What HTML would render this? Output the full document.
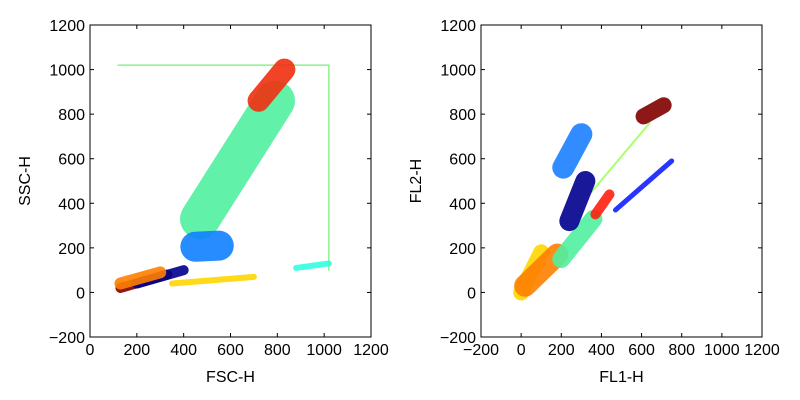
<!DOCTYPE html>
<html><head><meta charset="utf-8">
<style>
body{margin:0;background:#fff;}
svg{display:block;font-family:"Liberation Sans","DejaVu Sans",sans-serif;}
</style></head>
<body>
<svg id="chart" width="800" height="400" viewBox="0 0 800 400">
<rect width="800" height="400" fill="#fff"/>
</svg>
<script>
// Cluster data: start x, start y, end x, end y (data units), thickness px, color
const leftStartX = [120, 1020, 130, 200, 130, 350, 880, 470, 720, 450];
const leftStartY = [1020, 100, 20, 40, 40, 40, 110, 330, 860, 205];
const leftEndX   = [1020, 1020, 330, 400, 300, 700, 1020, 790, 830, 550];
const leftEndY   = [1020, 1020, 80, 100, 90, 70, 130, 860, 1000, 210];
const leftWidth  = [1.5, 1.5, 10, 10, 12, 6, 6, 40, 22, 30];
const leftColor  = ["#80f080","#80f080","#800000","#00008f","#ff8000","#ffd700","#30ffe0","#50f0a0","#f03010","#1080ff"];

const rightStartX = [0, 20, 200, 350, 240, 470, 370, 210, 610];
const rightStartY = [0, 30, 150, 450, 320, 370, 350, 560, 790];
const rightEndX   = [100, 180, 360, 640, 320, 750, 440, 300, 710];
const rightEndY   = [180, 170, 330, 760, 500, 590, 440, 710, 840];
const rightWidth  = [16, 22, 18, 2, 20, 5, 10, 22, 16];
const rightColor  = ["#ffd700","#ff8000","#50f0a0","#a0ff60","#00008f","#1020ff","#ff2010","#1a80ff","#800000"];

const leftXTicks = [0,200,400,600,800,1000,1200];
const rightXTicks = [-200,0,200,400,600,800,1000,1200];
const yTicks = [-200,0,200,400,600,800,1000,1200];
const tickLabel = v => (v<0 ? "\u2212"+(-v) : ""+v);

const svg = document.getElementById('chart');
const NS = "http://www.w3.org/2000/svg";
function mk(tag, attrs, parent){ const e=document.createElementNS(NS,tag); for(const k in attrs) e.setAttribute(k,attrs[k]); (parent||svg).appendChild(e); return e; }

function panel(px0, px1, xmin, xmax, sx, sy, ex, ey, w, col, xticks, xlabel, ylabel, pname){
  const py0=25, py1=337, ymin=-200, ymax=1200;
  const X = v => px0 + (v-xmin)/(xmax-xmin)*(px1-px0);
  const Y = v => py1 - (v-ymin)/(ymax-ymin)*(py1-py0);
  const g = mk('g',{});
  
  
  for(let i=0;i<sx.length;i++){
    const l = mk('line',{x1:X(sx[i]),y1:Y(sy[i]),x2:X(ex[i]),y2:Y(ey[i]),stroke:col[i],'stroke-width':w[i],'stroke-linecap':'round',opacity:0.9},g);
    
    
  }
  const fr = mk('rect',{x:px0,y:py0,width:px1-px0,height:py1-py0,fill:'none',stroke:'#000','stroke-width':1},g);
  
  
  xticks.forEach(v=>{
    const x=X(v);
    mk('line',{x1:x,y1:py1,x2:x,y2:py1-4,stroke:'#000'},g);
    mk('line',{x1:x,y1:py0,x2:x,y2:py0+4,stroke:'#000'},g);
    const t=mk('text',{x:x,y:py1+18,'text-anchor':'middle','font-size':16},g); t.textContent=tickLabel(v);
    
    
  });
  yTicks.forEach(v=>{
    const y=Y(v);
    mk('line',{x1:px0,y1:y,x2:px0+4,y2:y,stroke:'#000'},g);
    mk('line',{x1:px1,y1:y,x2:px1-4,y2:y,stroke:'#000'},g);
    const t=mk('text',{x:px0-5,y:y+6,'text-anchor':'end','font-size':16},g); t.textContent=tickLabel(v);
    
    
  });
  const xl=mk('text',{x:(px0+px1)/2,y:382,'text-anchor':'middle','font-size':16},g); xl.textContent=xlabel;
  
  
  const yx = px0-60, yy=(py0+py1)/2;
  const yl=mk('text',{x:yx,y:yy,'text-anchor':'middle','font-size':16,transform:`rotate(-90 ${yx} ${yy})`},g); yl.textContent=ylabel;
  
  
}
panel(90,371,0,1200,leftStartX,leftStartY,leftEndX,leftEndY,leftWidth,leftColor,leftXTicks,"FSC-H","SSC-H","left-panel");
panel(481,762,-200,1200,rightStartX,rightStartY,rightEndX,rightEndY,rightWidth,rightColor,rightXTicks,"FL1-H","FL2-H","right-panel");
</script>
</body></html>
